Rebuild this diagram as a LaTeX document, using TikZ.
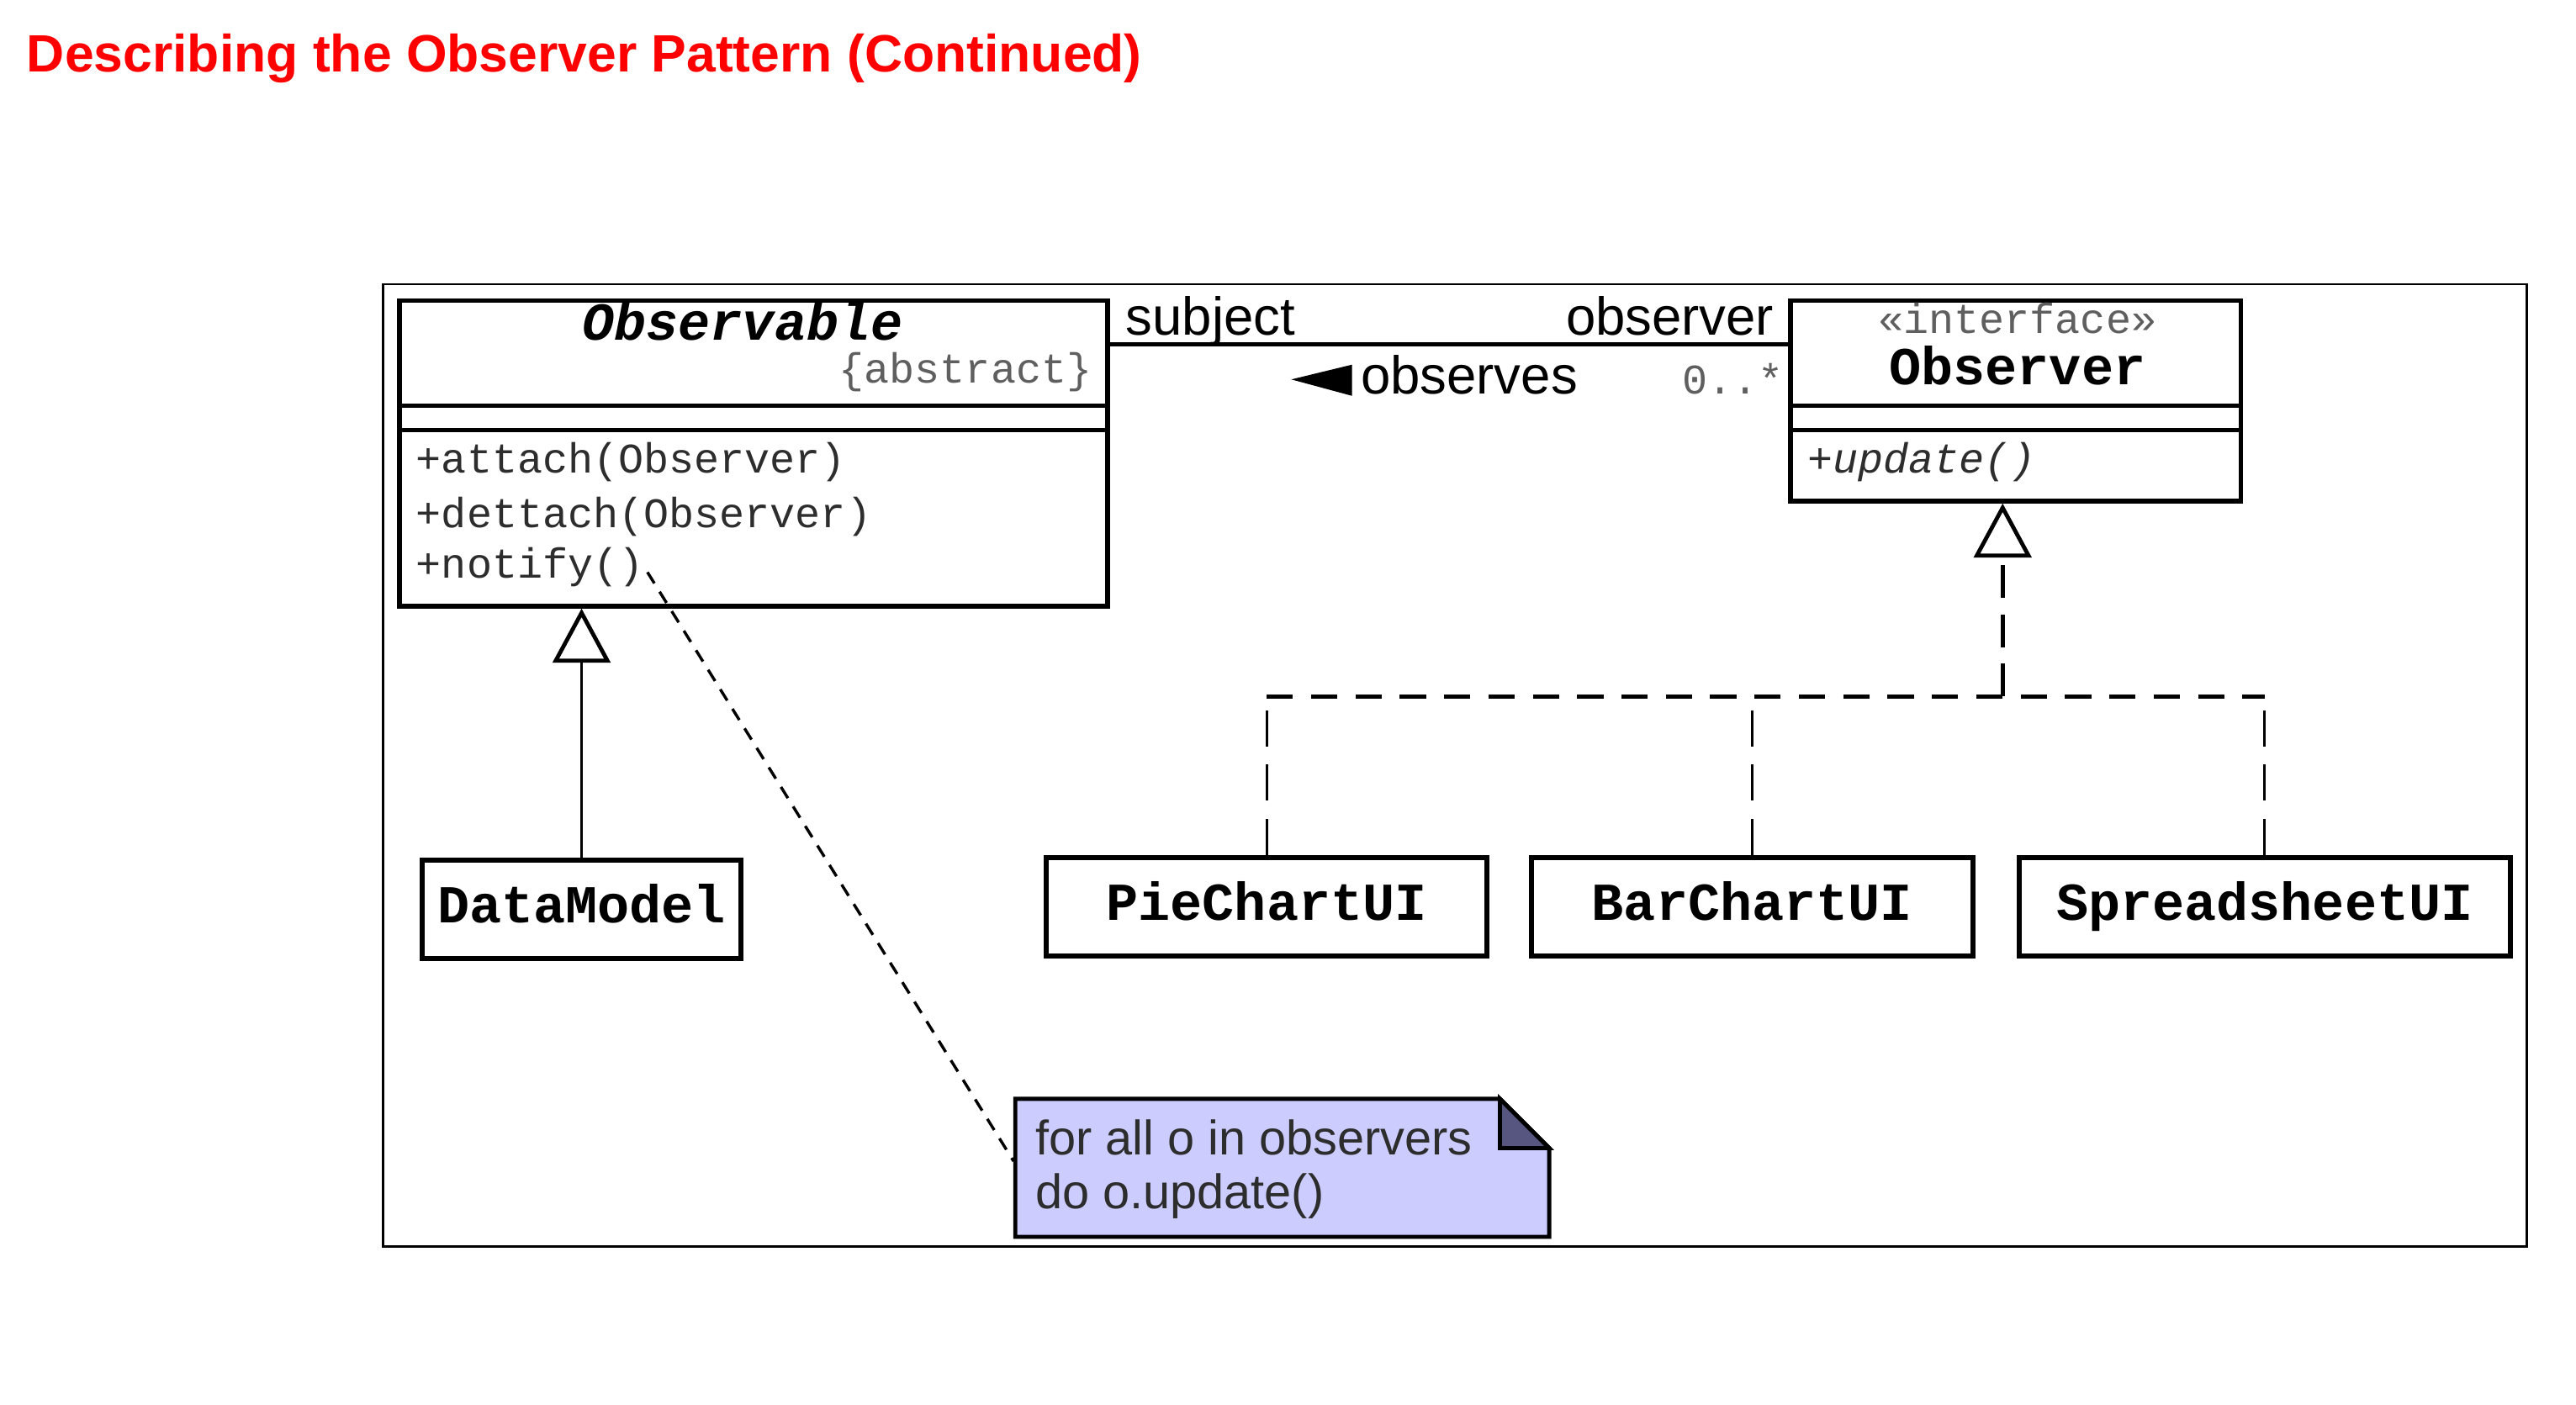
\documentclass[tikz,border=0pt]{standalone}
\usepackage{fontspec}
\setmainfont{Liberation Sans}
\newfontfamily\umlmono{Liberation Mono}
\usetikzlibrary{arrows.meta,fit,calc}
\definecolor{titlered}{RGB}{255,0,0}
\definecolor{notefill}{RGB}{204,204,255}
\definecolor{notefold}{RGB}{86,86,128}
\definecolor{umltext}{RGB}{45,45,45}
\definecolor{umlgray}{RGB}{95,95,95}
\newcommand\memberfont{\umlmono\fontsize{14.6}{16}\selectfont}
\newcommand\clsfont{\umlmono\bfseries\fontsize{18.5}{20}\selectfont}
\begin{document}
\begin{tikzpicture}[x=0.02cm,y=-0.02cm,
 classbox/.style={draw,line width=1.7pt,inner sep=0pt},
 compline/.style={line width=1.5pt},
 leafbox/.style={draw,line width=1.7pt,minimum height=1.2cm,text height=0.34cm,text depth=0pt,font=\clsfont},
 clsname/.style={inner sep=0pt,anchor=base,font=\clsfont},
 member/.style={inner sep=0pt,anchor=base west,text=umltext,font=\memberfont},
 rolelabel/.style={inner sep=0pt,font=\fontsize{18.5}{20}\selectfont},
 notetext/.style={inner sep=0pt,anchor=base west,text=umltext,font=\fontsize{16.8}{18}\selectfont},
 inherit/.style={line width=1.1pt,-{Triangle[open,length=0.66cm,width=0.7cm,line width=1.4pt]}},
 realup/.style={line width=1.4pt,dash pattern=on 0.4cm off 0.2cm},
 realrail/.style={line width=1.6pt,dash pattern=on 0.32cm off 0.22cm},
 realdrop/.style={line width=0.9pt,dash pattern=on 0.44cm off 0.22cm},
 notelink/.style={line width=1pt,dash pattern=on 0.16cm off 0.12cm,shorten <=2pt}]
\useasboundingbox (0,0) rectangle (1568,855.4);
\node[anchor=base west,inner sep=0pt,text=titlered,font=\bfseries\fontsize{18.2}{22}\selectfont] (title) at (16,44) {Describing the Observer Pattern (Continued)};
\draw[line width=0.85pt] (233,173) rectangle (1538,759);

\node[classbox,fit={(243,183) (674,369)}] (obs) {};
\draw[compline] (243,247) -- (674,247);
\draw[compline] (243,262) -- (674,262);
\node[clsname,font=\clsfont\itshape] (obsname) at (452,207) {Observable};
\node[member,anchor=base east,text=umlgray] (obsabs) at (665,233) {\{abstract\}};
\node[member] (attach) at (253,288) {+attach(Observer)};
\node[member] (dettach) at (253,321) {+dettach(Observer)};
\node[member] (notify) at (253,352) {+notify()};

\node[classbox,fit={(1090,183) (1364,305)}] (obsv) {};
\draw[compline] (1090,247) -- (1364,247);
\draw[compline] (1090,262) -- (1364,262);
\node[member,anchor=base,text=umlgray] (stereo) at (1228,203) {«interface»};
\node[clsname] (obsvname) at (1228,234) {Observer};
\node[member,font=\memberfont\itshape] (update) at (1100,288) {+update()};

\draw[line width=1.5pt] ($(obs.north east)+(0,28)$) -- ($(obsv.north west)+(0,28)$);
\node[rolelabel,anchor=base west] (subjlbl) at (685,204) {subject};
\node[rolelabel,anchor=base east] (obsrlbl) at (1080,204) {observer};
\node[rolelabel,anchor=base west] (obslbl) at (828,240) {observes};
\fill (786,231) -- (823,222) -- (823,241) -- cycle;
\node[member,anchor=base east,text=umlgray] (mult) at (1086,240) {0..*};

\node[leafbox,minimum width=3.88cm] (dm) at (354,553.5) {DataModel};
\node[leafbox,minimum width=5.36cm] (pie) at (771,552) {PieChartUI};
\node[leafbox,minimum width=5.38cm] (bar) at (1066.5,552) {BarChartUI};
\node[leafbox,minimum width=5.98cm] (sheet) at (1378.5,552) {SpreadsheetUI};

\draw[inherit] (dm.north) -- (dm.north |- obs.south);
\coordinate (hub) at (1219,424);
\draw[inherit,realup] (hub) -- (hub |- obsv.south);
\draw[realrail] (pie.north |- hub) -- (sheet.north |- hub);
\draw[realdrop] (pie.north) -- (pie.north |- hub);
\draw[realdrop] (bar.north) -- (bar.north |- hub);
\draw[realdrop] (sheet.north) -- (sheet.north |- hub);

\filldraw[fill=notefill,line width=1.4pt] (618,669) -- (913,669) -- (943,699) -- (943,753) -- (618,753) -- cycle;
\filldraw[fill=notefold,line width=1.4pt] (913,669) -- (913,699) -- (943,699) -- cycle;
\node[notetext] (notea) at (630,703) {for all o in observers};
\node[notetext] (noteb) at (630,736) {do o.update()};
\coordinate (notepin) at (617,707);
\draw[notelink] (notify.east) -- (notepin);
\end{tikzpicture}
\end{document}
